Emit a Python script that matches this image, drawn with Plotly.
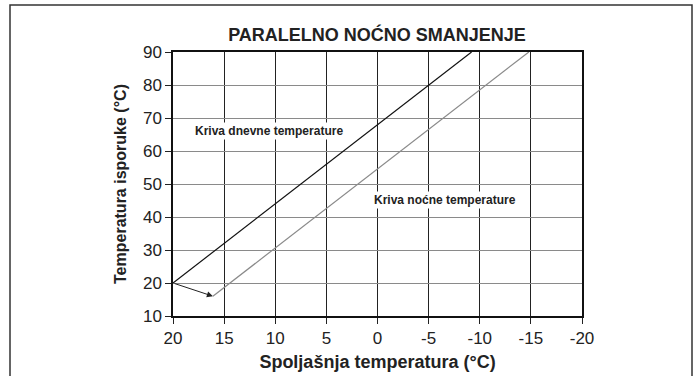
import plotly.graph_objects as go

# podaci ocitani sa slike
dnevna_x = [20, -9.2]
dnevna_y = [20, 90]
nocna_x = [16.1, -14.8]
nocna_y = [16, 90]
x_ticks = [20, 15, 10, 5, 0, -5, -10, -15, -20]
x_labels = ["20", "15", "10", "5", "0", "-5", "-10", "-15", "-20"]
y_ticks = [10, 20, 30, 40, 50, 60, 70, 80, 90]

FONT = "Liberation Sans Narrow, Arial Narrow, Liberation Sans, Arial"

fig = go.Figure()
fig.add_trace(go.Scatter(x=dnevna_x, y=dnevna_y, mode="lines",
                         line=dict(color="#111111", width=1.2), hoverinfo="skip"))
fig.add_trace(go.Scatter(x=nocna_x, y=nocna_y, mode="lines",
                         line=dict(color="#8a8a8a", width=1.2), hoverinfo="skip"))

# strelica od dnevne ka nocnoj krivoj
fig.add_annotation(x=nocna_x[0], y=nocna_y[0], ax=dnevna_x[0], ay=dnevna_y[0],
                   xref="x", yref="y", axref="x", ayref="y", text="",
                   showarrow=True, arrowhead=2, arrowsize=1.2, arrowwidth=1,
                   arrowcolor="#222222", standoff=0)

fig.add_annotation(x=10.6, y=66, text="<b>Kriva dnevne temperature</b>", showarrow=False,
                   bgcolor="white", font=dict(family=FONT, size=12, color="#222222"))
fig.add_annotation(x=-6.6, y=45.2, text="<b>Kriva noćne temperature</b>", showarrow=False,
                   bgcolor="white", font=dict(family=FONT, size=12, color="#222222"))

# okvir oko cele slike
fig.add_shape(type="rect", xref="paper", yref="paper",
              x0=(10 - 173) / 409, x1=(692 - 173) / 409, y0=-0.25, y1=(316 - 5) / 264,
              line=dict(color="#333333", width=1.5), layer="below")

fig.update_layout(
    width=700, height=376,
    margin=dict(l=173, r=118, t=52, b=60, autoexpand=False),
    paper_bgcolor="white", plot_bgcolor="white",
    showlegend=False,
    title=dict(text="<b>PARALELNO NOĆNO SMANJENJE</b>", x=377 / 700, xanchor="center",
               y=1 - 35 / 376, yanchor="middle",
               font=dict(family=FONT, size=18, color="#222222")),
    font=dict(family=FONT, size=17, color="#222222"),
)
fig.update_xaxes(range=[20, -20], tickvals=x_ticks, ticktext=x_labels, showgrid=True,
                 gridcolor="#222222", gridwidth=1, showline=True, linecolor="#111111",
                 linewidth=1.5, mirror=True, ticks="outside", ticklen=6, tickcolor="#222222",
                 zeroline=False,
                 title=dict(text="<b>Spoljašnja temperatura (°C)</b>", standoff=8,
                            font=dict(family=FONT, size=18)))
fig.update_yaxes(range=[10, 90], tickvals=y_ticks, showgrid=True, gridcolor="#8a8a8a",
                 gridwidth=1.2, showline=True, linecolor="#111111", linewidth=1.5, mirror=True,
                 ticks="outside", ticklen=6, tickcolor="#222222", zeroline=False,
                 title=dict(text="<b>Temperatura isporuke (°C)</b>", standoff=12,
                            font=dict(family=FONT, size=16)))

# bez podrazumevane margine tela stranice, da okvir stane
fig.write_html("out.html", config={"displayModeBar": False},
               post_script="document.body.style.margin='0';")
